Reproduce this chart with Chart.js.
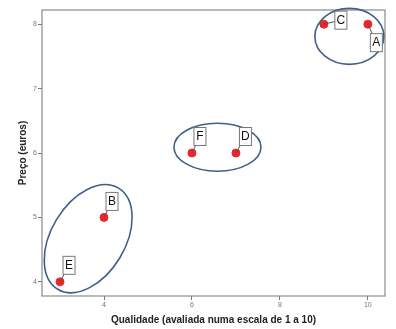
<!DOCTYPE html>
<html lang="pt">
<head>
<meta charset="UTF-8">
<title>Qualidade vs Preço</title>
<script src="https://cdn.jsdelivr.net/npm/chart.js"></script>
<style>
  html, body { margin: 0; padding: 0; background: #fff; }
  #wrap { width: 396px; height: 329px; }
</style>
</head>
<body>
<div id="wrap"><canvas id="myChart"></canvas></div>
<script>
  // data
  const names = ['A', 'B', 'C', 'D', 'E', 'F']
  const quality = [10, 4, 9, 7, 3, 6]
  const price = [8, 5, 8, 6, 4, 6]
  const xTicks = [4, 6, 8, 10]
  const yTicks = [4, 5, 6, 7, 8]

  // groups drawn as ellipses: centre in data units
  const groupCx = [9.58, 6.58, 3.64]
  const groupCy = [7.81, 6.09, 4.67]

  // label box offsets from point (pixels)
  const labelDx = [8.5, 8, 17, 9.5, 9, 8]
  const labelDy = [18.5, -16, -4, -16.5, -16.5, -16.5]
  // ellipse radii (px) and rotation
  const ellRx = [34.5, 43.5, 59]
  const ellRy = [28, 24, 37]
  const ellRot = [0, 0, -59]

  const extras = {
    id: 'extras',
    beforeDatasetsDraw(chart) {
      const { ctx, chartArea: a } = chart
      ctx.save()
      ctx.strokeStyle = '#8a8a8a'
      ctx.lineWidth = 1.2
      ctx.strokeRect(a.left, a.top, a.right - a.left, a.bottom - a.top)
      ctx.restore()
    },
    afterDatasetsDraw(chart) {
      const { ctx, scales } = chart
      const meta = chart.getDatasetMeta(0)
      ctx.save()
      // ellipses
      ctx.strokeStyle = '#3f6089'
      ctx.lineWidth = 1.6
      groupCx.forEach((cx, i) => {
        ctx.beginPath()
        ctx.ellipse(scales.x.getPixelForValue(cx), scales.y.getPixelForValue(groupCy[i]),
          ellRx[i], ellRy[i], ellRot[i] * Math.PI / 180, 0, Math.PI * 2)
        ctx.stroke()
      })
      // labels
      ctx.font = '12px "Liberation Sans", Arial, sans-serif'
      ctx.textAlign = 'center'
      ctx.textBaseline = 'middle'
      meta.data.forEach((pt, i) => {
        const bx = pt.x + labelDx[i], by = pt.y + labelDy[i]
        ctx.strokeStyle = '#555'
        ctx.lineWidth = 1
        ctx.beginPath()
        ctx.moveTo(pt.x, pt.y)
        ctx.lineTo(bx, by)
        ctx.stroke()
        ctx.fillStyle = '#fff'
        ctx.fillRect(bx - 6, by - 9, 12, 18)
        ctx.strokeStyle = '#777'
        ctx.strokeRect(bx - 6, by - 9, 12, 18)
        ctx.fillStyle = '#111'
        ctx.fillText(names[i], bx, by + 0.5)
      })
      ctx.restore()
    }
  }

  const ctx = document.getElementById('myChart')
  new Chart(ctx, {
    type: 'scatter',
    data: {
      datasets: [{
        data: quality.map((q, i) => ({ x: q, y: price[i] })),
        backgroundColor: '#e8262b',
        borderColor: '#e8262b',
        pointRadius: 4,
        pointHoverRadius: 4
      }]
    },
    options: {
      responsive: true,
      maintainAspectRatio: false,
      animation: false,
      layout: { padding: { left: 14, top: 10, right: 11, bottom: 0 } },
      plugins: { legend: { display: false }, tooltip: { enabled: false } },
      scales: {
        x: {
          type: 'linear',
          min: 2.59, max: 10.39,
          afterBuildTicks: s => { s.ticks = xTicks.map(v => ({ value: v })) },
          afterFit: s => { s.height = 33 },
          grid: { drawOnChartArea: false, drawTicks: true, tickLength: 4, color: '#777' },
          border: { display: false },
          ticks: { color: '#777', font: { size: 7, family: '"Liberation Sans", Arial' }, padding: 1 },
          title: {
            display: true,
            text: 'Qualidade (avaliada numa escala de 1 a 10)',
            color: '#222',
            font: { size: 10, weight: 'bold', family: '"Liberation Sans", Arial' },
            padding: { top: 0, bottom: 3 }
          }
        },
        y: {
          type: 'linear',
          min: 3.78, max: 8.22,
          afterBuildTicks: s => { s.ticks = yTicks.map(v => ({ value: v })) },
          afterFit: s => { s.width = 28 },
          grid: { drawOnChartArea: false, drawTicks: true, tickLength: 4, color: '#777' },
          border: { display: false },
          ticks: { color: '#777', font: { size: 7, family: '"Liberation Sans", Arial' }, padding: 1 },
          title: {
            display: true,
            text: 'Preço (euros)',
            color: '#222',
            font: { size: 10, weight: 'bold', family: '"Liberation Sans", Arial' },
            padding: { top: 3, bottom: 0 }
          }
        }
      }
    },
    plugins: [extras]
  })
</script>
</body>
</html>
